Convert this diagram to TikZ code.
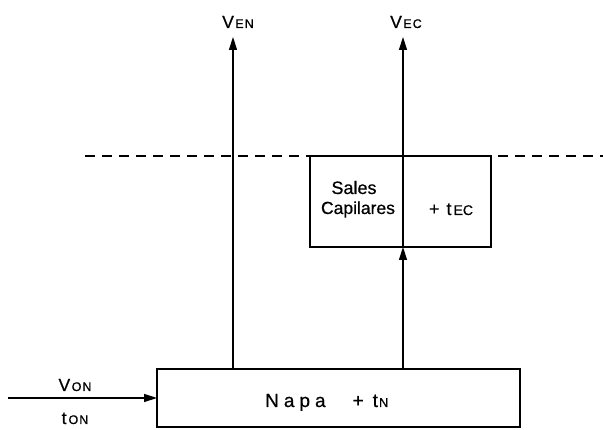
\documentclass[tikz,border=0pt]{standalone}
\usepackage{fontspec}
\setmainfont{Liberation Sans}[FakeBold=0.6]
\usetikzlibrary{arrows.meta}
\newcommand{\fsz}[1]{\fontsize{#1}{#1}\selectfont}
\begin{document}
\begin{tikzpicture}[x=1pt,y=-1pt,
  box/.style={draw,line width=1.8pt,inner sep=0pt,outer sep=0pt},
  flow/.style={line width=1.4pt,-{Triangle[length=13pt,width=8pt]}},
  lbl/.style={inner sep=1pt,font=\fsz{17.5}}]
\useasboundingbox (0,0) rectangle (603,430);
% boxes
\node[box,minimum width=363pt,minimum height=58pt] (napa) at (338.5,398) {};
\node[box,minimum width=181pt,minimum height=91pt] (sales) at (400.5,201.5) {};
% texts
\node[lbl,font=\fsz{19},anchor=base west,inner sep=0pt] (napat) at (265,407) {N\hspace{5pt}a\hspace{5pt}p\hspace{5pt}a\hspace{27pt}+\hspace{9pt}t\hspace{1pt}{\fsz{13}N}};
\node[lbl,font=\fsz{18},anchor=base] (salest) at (354,194) {Sales};
\node[lbl,font=\fsz{17.5},anchor=base] (capt) at (358,214) {Capilares};
\node[lbl,font=\fsz{18},anchor=base] (tec) at (451,215) {+\hspace{7pt}t\hspace{2pt}{\fsz{14}EC}};
% coordinates
\coordinate (in) at (8,398);
\coordinate (en) at (233,37);
\coordinate (ec) at (403,37);
\coordinate (d1) at (85,156);
\coordinate (d2) at (603,156);
\node[lbl,anchor=base] (von) at (75,391) {V\hspace{1.5pt}{\fsz{12.5}O\hspace{1pt}N}};
\node[lbl,anchor=base] (ton) at (75,424) {t\hspace{2pt}{\fsz{12.5}O\hspace{1pt}N}};
\node[lbl,anchor=base] (ven) at (238,28) {V\hspace{1.5pt}{\fsz{12.5}E\hspace{1pt}N}};
\node[lbl,anchor=base] (vec) at (406,28) {V\hspace{1.5pt}{\fsz{12.5}E\hspace{1pt}C}};
% connectors
\draw[flow] (in) -- (napa.west);
\draw[flow] (napa.north -| en) -- (en);
\draw[flow] (napa.north -| ec) -- (sales.south -| ec);
\draw[flow] (sales.south -| ec) -- (ec);
\draw[line width=1.5pt,dash pattern=on 10pt off 7pt] (d1) -- (d1 -| sales.west);
\draw[line width=1.5pt,dash pattern=on 10pt off 7pt] ([xshift=7pt]d2 -| sales.east) -- (d2);
\end{tikzpicture}
\end{document}
